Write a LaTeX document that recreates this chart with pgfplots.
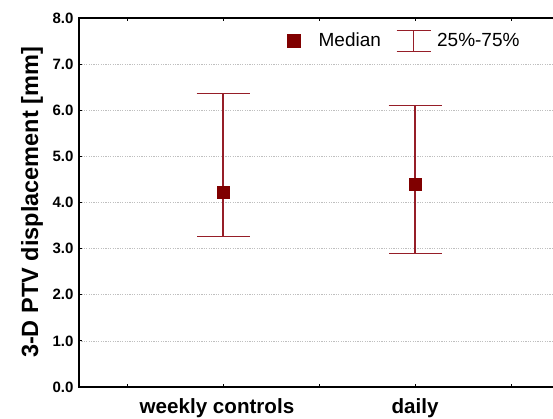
\documentclass[border=0pt]{standalone}
\usepackage{pgfplots}
\pgfplotsset{compat=1.18}
\usepackage{fontspec}
\setmainfont{Liberation Sans}
\definecolor{maroonc}{RGB}{128,0,0}
\definecolor{barc}{RGB}{150,30,40}
\begin{document}
\begin{tikzpicture}
\begin{axis}[
  at={(0,0)}, anchor=south west,
  scale only axis, width=477pt, height=369pt,
  xmin=0.25, xmax=2.734375, ymin=0, ymax=8,
  xtick={0.5,1,1.5,2,2.5}, xticklabels={,weekly controls\kern12pt,,daily,},
  ytick={0,1,...,8},
  xtick pos=both, ytick pos=left, tick align=inside,
  major tick length=3pt,
  tick style={black, line width=0.8pt},
  axis line style={black, line width=1.1pt},
  ymajorgrids, grid style={gray!50, line width=0.6pt, dash pattern=on 1.2pt off 1.2pt},
  yticklabel style={font=\fontsize{15}{17}\selectfont\bfseries, xshift=-2pt,
    /pgf/number format/fixed, /pgf/number format/fixed zerofill,
    /pgf/number format/precision=1, /pgf/number format/assume math mode=true},
  xticklabel style={font=\fontsize{20.6}{22}\selectfont\bfseries, yshift=-8pt},
  ylabel={3-D PTV displacement [mm]},
  every axis y label/.style={at={(axis description cs:-0.0985,0.5)}, rotate=90, anchor=center, font=\fontsize{23.5}{26}\selectfont\bfseries},
  legend columns=2,
  legend style={draw=none, fill=none, inner sep=0pt, at={(0.4361,0.9385)}, anchor=west,
    font=\fontsize{19}{21}\selectfont,
    /tikz/every odd column/.append style={column sep=4pt},
    /tikz/every even column/.append style={column sep=13pt}},
]
\addplot[only marks, mark=square*, mark size=6pt, color=maroonc,
  legend image code/.code={\fill[maroonc] (0pt,-6.5pt) rectangle (13pt,6.5pt); \node[draw=none, fill=none, inner sep=0pt, minimum width=25pt, minimum height=1pt, anchor=west] at (0pt,0pt) {};},
  error bars/.cd, y dir=both, y explicit,
  error bar style={color=barc, line width=1.2pt},
  error mark=|, error mark options={color=barc, mark size=26.5pt, line width=1.1pt}]
  coordinates {(1,4.23) += (0,2.13) -= (0,0.97) (2,4.39) += (0,1.72) -= (0,1.50)};
\addlegendentry{Median}
\addlegendimage{legend image code/.code={\draw[draw=barc, line width=1.2pt] (0pt,-10.5pt) -- (34pt,-10.5pt) (0pt,10.5pt) -- (34pt,10.5pt) (17pt,-10.5pt) -- (17pt,10.5pt);}}
\addlegendentry{25\%-75\%}
\end{axis}
\pgfresetboundingbox
\path (-79pt,-31pt) rectangle (474pt,387pt);
\end{tikzpicture}
\end{document}
